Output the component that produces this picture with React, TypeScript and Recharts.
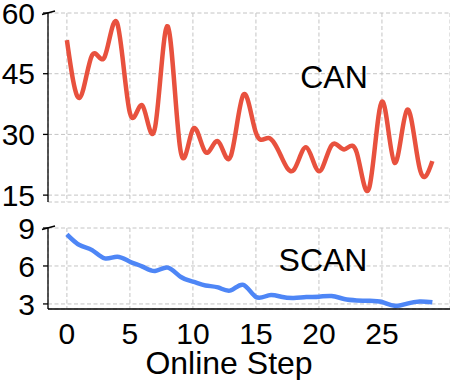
import React from 'react';
import {
  LineChart,
  Line,
  XAxis,
  YAxis,
  CartesianGrid,
} from 'recharts';

const STEPS = [0, 1, 2, 3, 4, 5, 6, 7, 8, 9, 10, 11, 12, 13, 14, 15, 16, 17, 18, 19, 20, 21, 22, 23, 24, 25, 26, 27, 28, 29];
const CAN = [53.3, 39, 49.6, 49.2, 57.4, 35.3, 37.1, 31.8, 56.7, 26.3, 31.3, 25.6, 28.3, 24.6, 39.8, 30.4, 29.1, 24.6, 21.2, 26.8, 20.9, 27.3, 26.3, 25.5, 16.9, 38.1, 23, 36.1, 21.5, 23.4];
const SCAN = [8.5, 7.65, 7.25, 6.6, 6.73, 6.34, 5.95, 5.6, 5.87, 5.16, 4.77, 4.46, 4.3, 4.07, 4.51, 3.55, 3.68, 3.57, 3.47, 3.55, 3.57, 3.63, 3.39, 3.28, 3.25, 3.15, 2.85, 3.03, 3.2, 3.13];
const X_TICKS = [0, 5, 10, 15, 20, 25];
const CAN_TICKS = [15, 30, 45, 60];
const SCAN_TICKS = [3, 6, 9];

const data = STEPS.map((step, i) => ({ step, can: CAN[i], scan: SCAN[i] }));

const FONT = "Arial, 'Liberation Sans', sans-serif";
const GRID = '#c4c4c4';

// y tick with the little "broken axis" slash on the top value
const BreakTick = (props: any) => {
  const { x, y, payload, top } = props;
  const ax = x + 13;
  return (
    <g>
      <text x={x} y={y} dy="0.355em" textAnchor="end" fontSize={30} fontFamily={FONT} fill="#000">
        {payload.value}
      </text>
      {payload.value === top && (
        <line x1={ax - 6} y1={y + 1.5} x2={ax + 7} y2={y - 2} stroke="#000" strokeWidth={1.5} />
      )}
    </g>
  );
};

export default function App() {
  return (
    <div style={{ position: 'absolute', left: 0, top: 0, width: 450, height: 380, background: '#fff', fontFamily: FONT }}>
      <div style={{ position: 'absolute', left: 0, top: 202 }}>
        <LineChart width={450} height={178} data={data} margin={{ top: 26, right: 0, bottom: 0, left: 0 }}>
          <CartesianGrid stroke={GRID} strokeDasharray="4 2.5" />
          <XAxis
            dataKey="step"
            type="number"
            domain={[-1.5, 30.4]}
            ticks={X_TICKS}
            interval={0}
            height={71}
            axisLine={{ stroke: '#000', strokeWidth: 1.3 }}
            tickLine={false}
            tickSize={6}
            tickMargin={8}
            tick={{ fontSize: 30, fill: '#000', fontFamily: FONT }}
            label={{ value: 'Online Step', position: 'insideBottom', offset: 6, dx: -20, fontSize: 32, fill: '#000', fontFamily: FONT }}
          />
          <YAxis
            type="number"
            domain={[2.6, 9]}
            ticks={SCAN_TICKS}
            interval={0}
            width={48}
            axisLine={{ stroke: '#000', strokeWidth: 1.3 }}
            tickLine={{ stroke: '#000', strokeWidth: 1.3 }}
            tickSize={5}
            tickMargin={8}
            tick={(p: any) => <BreakTick {...p} top={9} />}
            allowDataOverflow
          />
          <Line type="natural" dataKey="scan" stroke="#4e86f6" strokeWidth={4.5} dot={false} isAnimationActive={false} />
        </LineChart>
      </div>
      <div style={{ position: 'absolute', left: 0, top: 0 }}>
        <LineChart width={450} height={218} data={data} margin={{ top: 13, right: 0, bottom: 16, left: 0 }}>
          <CartesianGrid stroke={GRID} strokeDasharray="4 2.5" />
          <XAxis dataKey="step" type="number" domain={[-1.5, 30.4]} ticks={X_TICKS} interval={0} hide />
          <YAxis
            type="number"
            domain={[13.3, 60]}
            ticks={CAN_TICKS}
            interval={0}
            width={48}
            axisLine={{ stroke: '#000', strokeWidth: 1.3 }}
            tickLine={{ stroke: '#000', strokeWidth: 1.3 }}
            tickSize={5}
            tickMargin={8}
            tick={(p: any) => <BreakTick {...p} top={60} />}
            allowDataOverflow
          />
          <Line type="natural" dataKey="can" stroke="#e8513e" strokeWidth={4.5} dot={false} isAnimationActive={false} />
        </LineChart>
      </div>
      <div style={{ position: 'absolute', left: 334, top: 93, transform: 'translate(-50%, -100%)', fontSize: 32, lineHeight: 1, color: '#000' }}>
        CAN
      </div>
      <div style={{ position: 'absolute', left: 323, top: 276, transform: 'translate(-50%, -100%)', fontSize: 32, lineHeight: 1, color: '#000' }}>
        SCAN
      </div>
    </div>
  );
}
